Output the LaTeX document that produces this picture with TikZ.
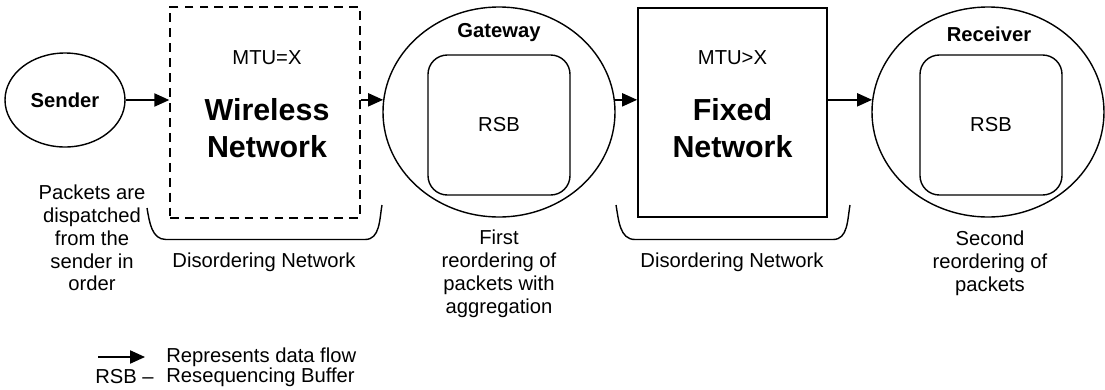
\documentclass[tikz,border=0pt]{standalone}
\usepackage{fontspec}
\setmainfont{Liberation Sans}
\usetikzlibrary{shapes.geometric, arrows.meta, positioning, calc}

\begin{document}
\begin{tikzpicture}[
    txt/.style={font=\fontsize{11.5}{13}\selectfont, align=center},
    txtb/.style={font=\fontsize{11.5}{13}\selectfont\bfseries, align=center},
    big/.style={font=\fontsize{17.3}{21}\selectfont\bfseries, align=center},
    flow/.style={-{Triangle[length=8.5pt,width=7.5pt]}, line width=0.8pt},
    rsb/.style={draw, line width=0.8pt, rounded corners=11pt, minimum width=2.84cm, minimum height=2.8cm, txt},
    hostnode/.style={draw, ellipse, line width=0.8pt, minimum width=4.64cm, minimum height=4.2cm},
    brace/.style={line width=0.8pt}
]
    \useasboundingbox (0,0) rectangle (22.1,7.78);

    % Sender
    \node[draw, ellipse, line width=0.8pt, minimum width=2.4cm, minimum height=1.88cm, txtb] (sender) at (1.3,5.78) {Sender};
    \node[txt] (sendnote) at (1.84,3.02) {Packets are\\dispatched\\from the\\sender in\\order};

    % Wireless network (dashed box)
    \node[draw, dash pattern=on 5pt off 3.5pt, line width=0.8pt, minimum width=3.8cm, minimum height=4.22cm] (wireless) at (5.3,5.53) {};
    \node[txt] (mtuwl) at (5.34,6.63) {MTU=X};
    \node[big] (wllabel) at (5.34,5.22) {Wireless\\Network};

    % Gateway with RSB
    \node[hostnode] (gateway) at (9.98,5.54) {};
    \node[txtb] (gwlabel) at (9.98,7.12) {Gateway};
    \node[rsb] (rsbgw) at (9.98,5.28) {RSB};
    \node[txt] (gwnote) at (9.98,2.3) {First\\reordering of\\packets with\\aggregation};

    % Fixed network
    \node[draw, line width=1pt, minimum width=3.78cm, minimum height=4.18cm] (fixed) at (14.65,5.53) {};
    \node[txt] (mtufx) at (14.65,6.63) {MTU>X};
    \node[big] (fxlabel) at (14.65,5.22) {Fixed\\Network};

    % Receiver with RSB
    \node[hostnode] (receiver) at (19.76,5.54) {};
    \node[txtb] (rclabel) at (19.78,7.1) {Receiver};
    \node[rsb] (rsbrc) at (19.82,5.28) {RSB};
    \node[txt] (rcnote) at (19.8,2.52) {Second\\reordering of\\packets};

    % Data flow
    \draw[flow] (sender.east) -- (sender.east -| wireless.west);
    \draw[flow] (wireless.east |- gateway.174) -- (gateway.174);
    \draw[flow] (gateway.6) -- (gateway.6 -| fixed.west);
    \draw[flow] (fixed.east |- receiver.174) -- (receiver.174);

    % Disordering brackets
    \draw[brace] (2.94,3.62) to[out=-80,in=180] (3.32,2.99) -- (7.3,2.99) to[out=0,in=-100] (7.64,3.68);
    \node[txt] (dis1) at (5.28,2.54) {Disordering Network};
    \draw[brace] (12.32,3.68) to[out=-80,in=180] (12.7,2.99) -- (16.66,2.99) to[out=0,in=-100] (17.0,3.68);
    \node[txt] (dis2) at (14.64,2.54) {Disordering Network};

    % Legend
    \coordinate (lega) at (1.96,0.64);
    \coordinate (legb) at (2.9,0.64);
    \draw[flow] (lega) -- (legb);
    \node[txt, anchor=west, inner sep=0pt] (legflow) at (3.32,0.64) {Represents data flow};
    \node[txt, anchor=west, inner sep=0pt] (legrsb) at (1.9,0.24) {RSB --};
    \node[txt, anchor=west, inner sep=0pt] (legbuf) at (3.32,0.24) {Resequencing Buffer};
\end{tikzpicture}
\end{document}
